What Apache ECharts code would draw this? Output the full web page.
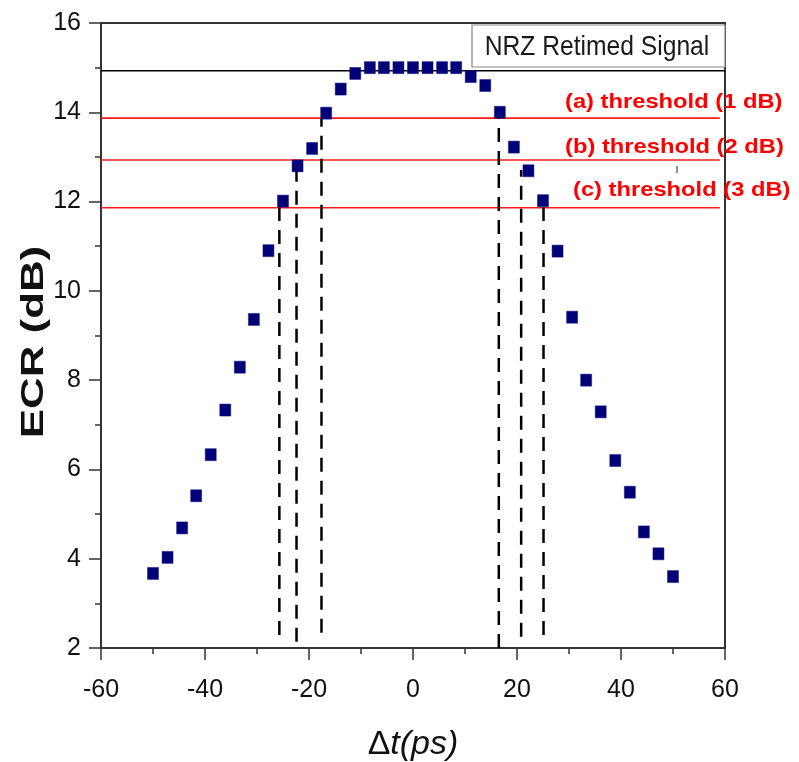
<!DOCTYPE html>
<html><head><meta charset="utf-8">
<script src="https://cdn.jsdelivr.net/npm/echarts@6/dist/echarts.min.js"></script>
<style>html,body{margin:0;padding:0;background:#fff}#c{width:799px;height:762px}</style>
</head><body><div id="c"></div>
<script>
// Data
const delayPs = [-50, -47.2, -44.4, -41.7, -38.9, -36.1, -33.3, -30.6, -27.8, -25.0, -22.2, -19.4, -16.7, -13.9, -11.1,
  -8.3, -5.6, -2.8, 0, 2.8, 5.6, 8.3,
  11.1, 13.9, 16.7, 19.4, 22.2, 25.0, 27.8, 30.6, 33.3, 36.1, 38.9, 41.7, 44.4, 47.2, 50];
const ecrDb = [3.67, 4.03, 4.69, 5.41, 6.33, 7.33, 8.29, 9.36, 10.9, 12.01, 12.8, 13.19, 13.98, 14.52, 14.87,
  15.0, 15.0, 15.0, 15.0, 15.0, 15.0, 15.0,
  14.8, 14.6, 14.0, 13.22, 12.69, 12.02, 10.89, 9.41, 8.0, 7.29, 6.2, 5.49, 4.6, 4.11, 3.6];
const seriesName = 'NRZ Retimed Signal';
const refLevel = 14.93;                       // black reference line
const thresholdLevels = [13.87, 12.93, 11.86]; // red threshold lines
const thresholdLabels = ['(a) threshold (1 dB)', '(b) threshold (2 dB)', '(c) threshold (3 dB)'];
const thresholdXEnd = 59;
const dashX = [-25.7, -22.4, -17.6, 16.5, 20.8, 25.1];
const dashTop = [11.9, 12.75, 13.85, 13.87, 12.71, 11.89];
const dashBottom = [2.29, 2.14, 2.34, 2.0, 2.25, 2.29];
const xMin = -60, xMax = 60, xStep = 20;
const yMin = 2, yMax = 16, yStep = 2;

const chart = echarts.init(document.getElementById('c'), null, {renderer: 'canvas'});
const FONT = '"Liberation Sans", Arial, sans-serif';

const series = [];
series.push({
  type: 'line', silent: true, symbol: 'none', z: 2,
  data: [[xMin, refLevel], [xMax, refLevel]],
  lineStyle: {color: '#000', width: 1.5}
});
thresholdLevels.forEach(v => series.push({
  type: 'line', silent: true, symbol: 'none', z: 2,
  data: [[xMin, v], [thresholdXEnd, v]],
  lineStyle: {color: '#ff1a1a', width: 1.6}
}));
dashX.forEach((x, i) => series.push({
  type: 'line', silent: true, symbol: 'none', z: 3,
  data: [[x, dashBottom[i]], [x, dashTop[i]]],
  lineStyle: {color: '#000', width: 2.5, type: [14, 9]}
}));
series.push({
  name: seriesName, type: 'scatter', z: 5,
  symbol: 'rect', symbolSize: [11, 12],
  itemStyle: {color: '#000078', opacity: 1, borderColor: '#141480', borderWidth: 0.5},
  data: delayPs.map((x, i) => [x, ecrDb[i]])
});

const axisCommon = {
  axisLine: {show: true, onZero: false, lineStyle: {color: '#333', width: 2}},
  axisTick: {show: true, inside: false, length: 12, lineStyle: {color: '#333', width: 1.5}},
  minorTick: {show: true, splitNumber: 2, length: 6, lineStyle: {color: '#333', width: 1.5}},
  splitLine: {show: false},
  minorSplitLine: {show: false}
};

const graphics = [
  {type: 'rect', z: 10, shape: {x: 472, y: 25, width: 253, height: 42},
   style: {fill: '#fff', stroke: '#888', lineWidth: 1.2}},
  {type: 'text', z: 11, x: 597, y: 47, scaleX: 0.88,
   style: {text: seriesName, font: '28px ' + FONT, fill: '#1a1a1a', textAlign: 'center', textVerticalAlign: 'middle'}},
  {type: 'text', z: 11, x: 34, y: 342, rotation: Math.PI / 2, scaleX: 1.37,
   style: {text: 'ECR (dB)', font: 'bold 32px ' + FONT, fill: '#111', textAlign: 'center', textVerticalAlign: 'middle'}},
  {type: 'text', z: 11, x: 413, y: 745,
   style: {text: '{n|Δ}{i|t(ps)}', textAlign: 'center', textVerticalAlign: 'middle',
     rich: {n: {font: '34px ' + FONT, fill: '#111'}, i: {font: 'italic 34px ' + FONT, fill: '#111'}}}},
  {type: 'line', z: 11, shape: {x1: 677, y1: 166, x2: 677, y2: 173}, style: {stroke: '#222', lineWidth: 1}}
];
const labelPos = [[565, 102], [565, 147], [573, 190]];
thresholdLabels.forEach((t, i) => graphics.push({
  type: 'text', z: 11, x: labelPos[i][0], y: labelPos[i][1], scaleX: 1.13,
  style: {text: t, font: 'bold 21px ' + FONT, fill: '#ff0000', textAlign: 'left', textVerticalAlign: 'middle'}
}));

chart.setOption({
  animation: false,
  backgroundColor: '#fff',
  grid: {left: 101, right: 74, top: 23, bottom: 114, show: true, borderColor: '#333', borderWidth: 2, backgroundColor: 'transparent'},
  xAxis: Object.assign({
    type: 'value', min: xMin, max: xMax, interval: xStep,
    axisLabel: {fontSize: 25, color: '#111', margin: 30, fontFamily: FONT}
  }, axisCommon),
  yAxis: Object.assign({
    type: 'value', min: yMin, max: yMax, interval: yStep,
    axisLabel: {fontSize: 25, color: '#111', margin: 20, fontFamily: FONT}
  }, axisCommon),
  series: series,
  graphic: graphics
});
</script></body></html>
